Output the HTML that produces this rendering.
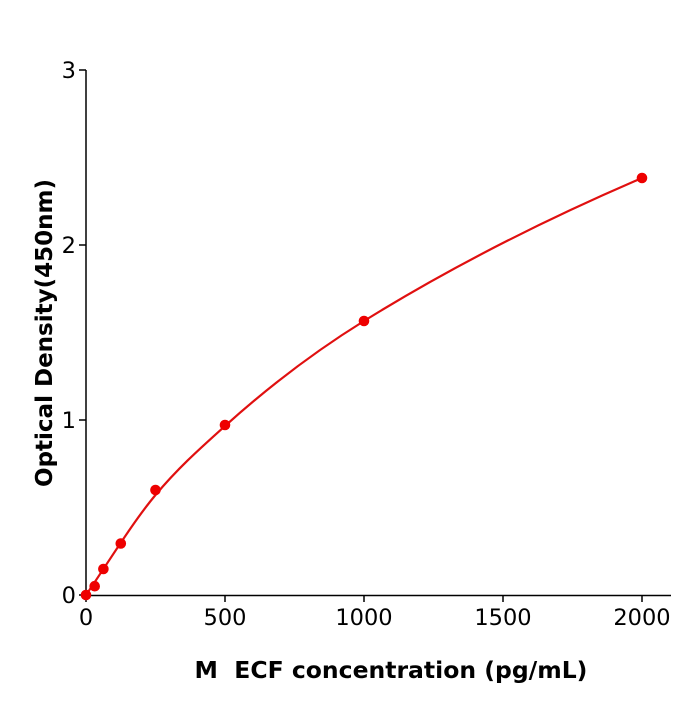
<!DOCTYPE html>
<html><head><meta charset="utf-8"><style>
html,body{margin:0;padding:0;background:#fff;}
svg text{font-family:"DejaVu Sans","Liberation Sans",sans-serif;}
</style></head><body>
<svg width="700" height="700" viewBox="0 0 700 700" xmlns="http://www.w3.org/2000/svg">
<rect width="700" height="700" fill="#fff"/>
<g stroke="#000" stroke-width="1.5" fill="none">
<line x1="86" y1="70" x2="86" y2="596"/>
<line x1="85" y1="595.5" x2="671" y2="595.5"/>
<line x1="79" y1="595" x2="86" y2="595"/>
<line x1="79" y1="420" x2="86" y2="420"/>
<line x1="79" y1="245" x2="86" y2="245"/>
<line x1="79" y1="70" x2="86" y2="70"/>
<line x1="86" y1="595" x2="86" y2="602"/>
<line x1="225" y1="595" x2="225" y2="602"/>
<line x1="364" y1="595" x2="364" y2="602"/>
<line x1="503" y1="595" x2="503" y2="602"/>
<line x1="642" y1="595" x2="642" y2="602"/>
</g>
<g font-size="22.5" fill="#000" text-anchor="end">
<text x="76" y="603">0</text>
<text x="76" y="428">1</text>
<text x="76" y="253">2</text>
<text x="76" y="78">3</text>
</g>
<g font-size="22.5" fill="#000" text-anchor="middle">
<text x="86" y="625">0</text>
<text x="225" y="625">500</text>
<text x="364" y="625">1000</text>
<text x="503" y="625">1500</text>
<text x="642" y="625">2000</text>
</g>
<text x="391" y="678" font-size="23.5" font-weight="bold" text-anchor="middle">M&#160;&#160;ECF concentration (pg/mL)</text>
<text transform="translate(52,333) rotate(-90)" font-size="23" font-weight="bold" text-anchor="middle">Optical Density(450nm)</text>
<path d="M86,595 C109.2,561.2 132.3,522.8 155.5,495 C178.7,467.2 201.8,446.9 225,426 C271.3,384.3 317.7,349.7 364,321 C456.7,263.5 549.3,217.8 642,178" stroke="#e01010" stroke-width="2.2" fill="none"/>
<g fill="#ee0000">
<circle cx="86" cy="595" r="5.3"/>
<circle cx="94.7" cy="586.2" r="5.3"/>
<circle cx="103.4" cy="569" r="5.3"/>
<circle cx="120.8" cy="543.5" r="5.3"/>
<circle cx="155.5" cy="490" r="5.3"/>
<circle cx="225" cy="425" r="5.3"/>
<circle cx="364" cy="321" r="5.3"/>
<circle cx="642" cy="178" r="5.3"/>
</g>
</svg>
</body></html>
